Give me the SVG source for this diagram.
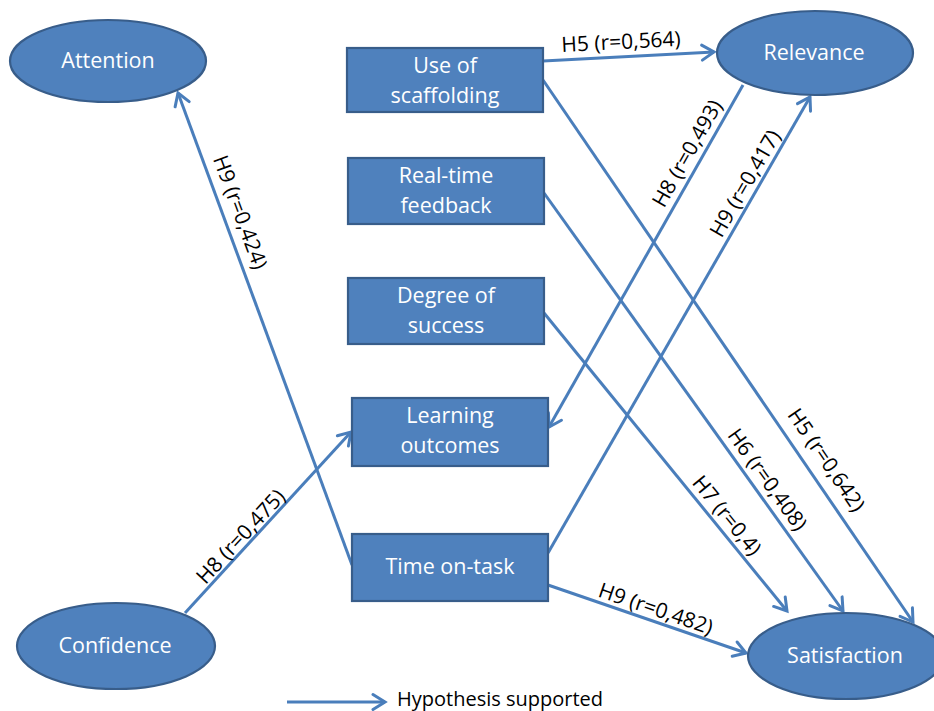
<svg xmlns="http://www.w3.org/2000/svg" width="934" height="711" viewBox="0 0 934 711">
  <defs>
    <marker id="arrow" markerUnits="userSpaceOnUse" markerWidth="20" markerHeight="20" refX="14" refY="9" orient="auto" overflow="visible">
      <path d="M2,1.5 L14,9 L2,16.5" fill="none" stroke="#4A7EBB" stroke-width="3" stroke-linecap="round" stroke-linejoin="miter"/>
    </marker>
  </defs>
  <style>
    .node { fill: #4F81BD; stroke: #385D8A; stroke-width: 2.2; }
    .ntext { font-family: "Open Sans", "Liberation Sans", sans-serif; font-size: 21.5px; fill: #ffffff; text-anchor: middle; }
    .edge { stroke: #4A7EBB; stroke-width: 3; fill: none; marker-end: url(#arrow); }
    .elabel { font-family: "Open Sans", "Liberation Sans", sans-serif; font-size: 21px; fill: #000000; text-anchor: middle; dominant-baseline: central; }
    .legend { font-family: "Open Sans", "Liberation Sans", sans-serif; font-size: 20px; fill: #000000; }
  </style>
  <rect width="934" height="711" fill="#ffffff"/>

  <!-- connectors -->
  <g id="connectors">
    <line class="edge" x1="543" y1="61" x2="714" y2="52"/>
    <line class="edge" x1="543" y1="80" x2="913" y2="622"/>
    <line class="edge" x1="544" y1="193" x2="843" y2="611"/>
    <line class="edge" x1="544" y1="313" x2="787" y2="611"/>
    <line class="edge" x1="743" y1="85" x2="549" y2="427"/>
    <line class="edge" x1="548" y1="553" x2="810" y2="97"/>
    <line class="edge" x1="548" y1="585" x2="746" y2="653"/>
    <line class="edge" x1="352" y1="565" x2="178" y2="93"/>
    <line class="edge" x1="185" y1="613" x2="351" y2="432"/>

    <text class="elabel" transform="translate(621,41) rotate(-3)">H5 (r=0,564)</text>
    <text class="elabel" transform="translate(827,459.5) rotate(55.7)">H5 (r=0,642)</text>
    <text class="elabel" transform="translate(768,479) rotate(54.4)">H6 (r=0,408)</text>
    <text class="elabel" transform="translate(727.5,515) rotate(50.8)">H7 (r=0,4)</text>
    <text class="elabel" transform="translate(686.5,153) rotate(-60.4)">H8  (r=0,493)</text>
    <text class="elabel" transform="translate(744.5,183) rotate(-60)">H9 (r=0,417)</text>
    <text class="elabel" transform="translate(656,608) rotate(18.9)">H9 (r=0,482)</text>
    <text class="elabel" transform="translate(241,212) rotate(69.7)">H9 (r=0,424)</text>
    <text class="elabel" transform="translate(240,536) rotate(-47.3)">H8 (r=0,475)</text>
  </g>

  <!-- ellipse nodes -->
  <g id="attention">
    <ellipse class="node" cx="108" cy="61" rx="98" ry="41"/>
    <text class="ntext" x="108" y="68">Attention</text>
  </g>
  <g id="relevance">
    <ellipse class="node" cx="815" cy="53" rx="98" ry="42"/>
    <text class="ntext" x="814" y="60">Relevance</text>
  </g>
  <g id="confidence">
    <ellipse class="node" cx="116" cy="646" rx="99" ry="43"/>
    <text class="ntext" x="115" y="653">Confidence</text>
  </g>
  <g id="satisfaction">
    <ellipse class="node" cx="846" cy="656" rx="98" ry="43"/>
    <text class="ntext" x="845" y="663">Satisfaction</text>
  </g>

  <!-- box nodes -->
  <g id="scaffolding">
    <rect class="node" x="347" y="48" width="196" height="64"/>
    <text class="ntext" x="445" y="73">Use of</text>
    <text class="ntext" x="445" y="103">scaffolding</text>
  </g>
  <g id="feedback">
    <rect class="node" x="348" y="158" width="196" height="66"/>
    <text class="ntext" x="446" y="183">Real-time</text>
    <text class="ntext" x="446" y="213">feedback</text>
  </g>
  <g id="success">
    <rect class="node" x="348" y="278" width="196" height="66"/>
    <text class="ntext" x="446" y="303">Degree of</text>
    <text class="ntext" x="446" y="333">success</text>
  </g>
  <g id="outcomes">
    <rect class="node" x="352" y="398" width="196" height="68"/>
    <text class="ntext" x="450" y="423">Learning</text>
    <text class="ntext" x="450" y="453">outcomes</text>
  </g>
  <g id="timeontask">
    <rect class="node" x="352" y="534" width="196" height="67"/>
    <text class="ntext" x="450" y="574">Time on-task</text>
  </g>

  <!-- legend -->
  <g id="legend">
    <line class="edge" x1="287" y1="702" x2="385" y2="702"/>
    <text class="legend" x="397" y="706">Hypothesis supported</text>
  </g>
</svg>
